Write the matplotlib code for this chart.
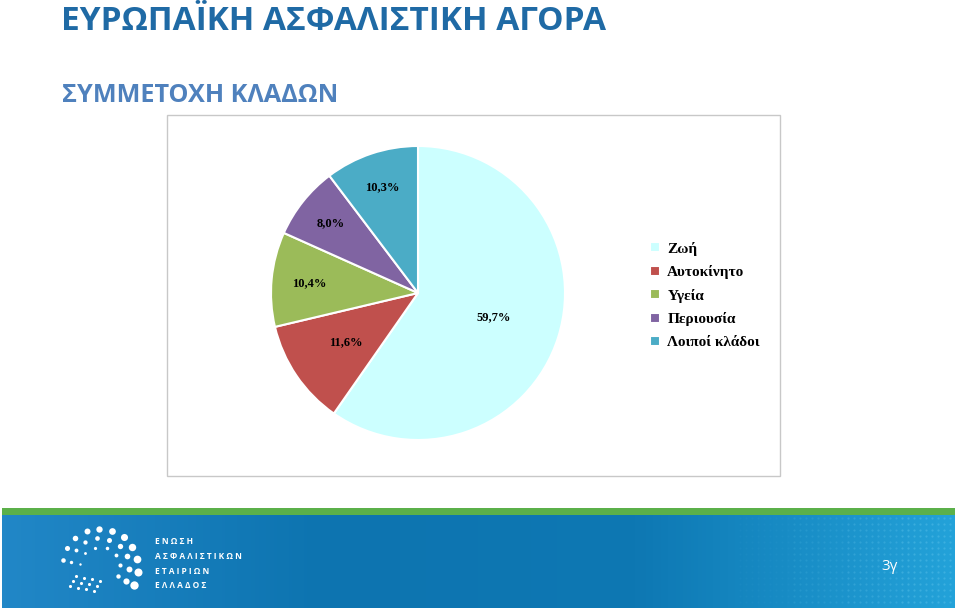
import numpy as np
import matplotlib.pyplot as plt
from matplotlib.patches import Rectangle
from matplotlib.colors import LinearSegmentedColormap

# data
klados = ["Ζωή", "Αυτοκίνητο", "Υγεία", "Περιουσία", "Λοιποί κλάδοι"]
meridio = [59.7, 11.6, 10.4, 8.0, 10.3]
xromata = ["#CCFFFF", "#C0504D", "#9BBB59", "#8064A2", "#4BACC6"]
etiketes = ["59,7%", "11,6%", "10,4%", "8,0%", "10,3%"]
apostasi_etiketas = [0.54, 0.59, 0.74, 0.76, 0.76]

titlos = "ΕΥΡΩΠΑΪΚΗ ΑΣΦΑΛΙΣΤΙΚΗ ΑΓΟΡΑ"
ypotitlos = "ΣΥΜΜΕΤΟΧΗ ΚΛΑΔΩΝ"
logo_grammes = ["Ε Ν Ω Σ Η", "Α Σ Φ Α Λ Ι Σ Τ Ι Κ Ω Ν", "Ε Τ Α Ι Ρ Ι Ω Ν", "Ε Λ Λ Α Δ Ο Σ"]
selida = "3γ"

W, H = 960, 612
fig = plt.figure(figsize=(W / 100, H / 100), dpi=100)

# background layer in pixel coords (y down)
bg = fig.add_axes([0, 0, 1, 1])
bg.set_xlim(0, W)
bg.set_ylim(H, 0)
bg.axis("off")

sans = ["Open Sans", "DejaVu Sans"]
serif = ["Liberation Serif", "DejaVu Serif"]

bg.text(61, 21, titlos, fontsize=24, fontweight="bold", color="#1F6AA5",
        family=sans, va="center", ha="left")
bg.text(62, 96, ypotitlos, fontsize=18.2, fontweight="bold", color="#4F81BD",
        family=sans, va="center", ha="left")

# chart frame
bg.add_patch(Rectangle((167, 115), 613, 361, fill=False, edgecolor="#C8C8C8", lw=1))

# footer: green stripe + blue gradient
bg.add_patch(Rectangle((2, 508), 953, 7, color="#5BB04A", lw=0))
grad = np.linspace(0, 1, 256)[None, :]
cmap = LinearSegmentedColormap.from_list("banner", ["#2187C7", "#0D74B0", "#0E78B3", "#23A2D9"])
bg.imshow(grad, extent=(2, 955, 608, 515), aspect="auto", cmap=cmap, zorder=1)

# dotted texture on the right, fading in
xs, ys = np.meshgrid(np.arange(740, 955, 6), np.arange(518, 606, 6))
xs, ys = xs.ravel(), ys.ravel()
alfa = np.clip((xs - 740) / 215, 0, 1) * 0.4
for a_lo in np.linspace(0, 0.4, 5):
    m = (alfa >= a_lo) & (alfa < a_lo + 0.1)
    bg.scatter(xs[m] + (ys[m] % 12 == 0) * 3, ys[m], s=2.5, color="#6CCBF0",
               alpha=a_lo + 0.05, lw=0, zorder=2)

# logo dots
cx, cy = 100, 567
for r, n, smax in [(38, 11, 36), (29, 9, 20), (20, 7, 10)]:
    angs = np.linspace(-28, 170, n)
    for i, a in enumerate(angs):
        t = np.radians(a)
        s = smax * (0.3 + 0.7 * (1 - i / (n - 1)))
        bg.scatter(cx + r * np.cos(t), cy - r * np.sin(t), s=s, color="white", lw=0, zorder=3)
for i in range(4):
    for j in range(3):
        bg.scatter(70 + i * 8 + j * 3, 586 - j * 5 + i * 1.5, s=5, color="white", lw=0, zorder=3)

for k, g in enumerate(logo_grammes):
    bg.text(155, 542 + k * 14.5, g, fontsize=6, fontweight="bold", color="white",
            family=sans, va="center", ha="left", zorder=4)
bg.text(890, 567, selida, fontsize=11, color="white", family=sans,
        va="center", ha="center", zorder=4)

# pie
pcx, pcy, pr = 418, 293, 147
ax = fig.add_axes([(pcx - pr) / W, 1 - (pcy + pr) / H, 2 * pr / W, 2 * pr / H])
wedges, _ = ax.pie(meridio, colors=xromata, startangle=90, counterclock=False,
                   wedgeprops=dict(edgecolor="white", linewidth=1.5))
ax.set_xlim(-1, 1)
ax.set_ylim(-1, 1)
ax.set_aspect("equal")
ax.axis("off")

for w, lab, d in zip(wedges, etiketes, apostasi_etiketas):
    mid = np.radians((w.theta1 + w.theta2) / 2)
    ax.text(d * np.cos(mid), d * np.sin(mid), lab, ha="center", va="center",
            fontsize=9, fontweight="bold", family=serif)

fig.legend(wedges, klados, loc="upper left", bbox_to_anchor=(636 / W, 1 - 228 / H),
           frameon=False, prop=dict(family=serif, weight="bold", size=11),
           handlelength=0.65, handleheight=0.65, handletextpad=0.5, labelspacing=0.62)

fig.savefig("out.png", dpi=100)
